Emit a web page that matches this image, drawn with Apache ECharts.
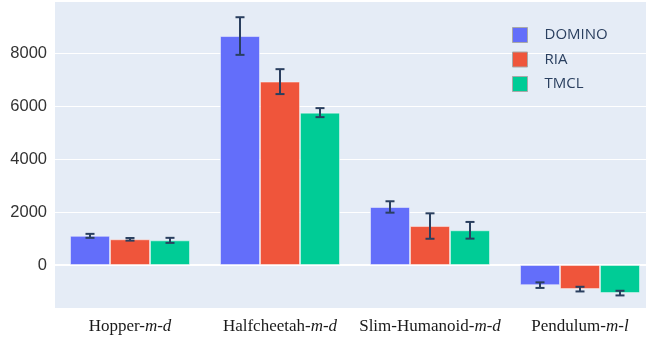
<!DOCTYPE html>
<html>
<head>
<meta charset="utf-8">
<script src="https://cdn.jsdelivr.net/npm/echarts@6/dist/echarts.min.js"></script>
<style>
  html, body { margin: 0; padding: 0; background: #fff; overflow: hidden; }
  #chart { width: 660px; height: 339px; }
</style>
</head>
<body>
<div id="chart"></div>
<script>
// Environments and their setting suffix (suffix drawn in italics)
const envNames = ['Hopper-', 'Halfcheetah-', 'Slim-Humanoid-', 'Pendulum-'];
const envSuffix = ['m-d', 'm-d', 'm-d', 'm-l'];
const categories = envNames.map((n, i) => n + envSuffix[i]);

const methods = ['DOMINO', 'RIA', 'TMCL'];
const colors = ['#636efa', '#ef553b', '#00cc96'];

// Mean returns per method
const dominoMean = [1100, 8640, 2190, -760];
const riaMean = [970, 6920, 1470, -910];
const tmclMean = [930, 5750, 1310, -1060];

// Error bar half-widths
const dominoErr = [75, 710, 215, 105];
const riaErr = [50, 470, 480, 88];
const tmclErr = [95, 170, 315, 88];

const yTicks = [-2000, 0, 2000, 4000, 6000, 8000, 10000];

const means = [dominoMean, riaMean, tmclMean];
const errs = [dominoErr, riaErr, tmclErr];

const chart = echarts.init(document.getElementById('chart'));

const barSeries = methods.map((m, k) => ({
  name: m,
  type: 'bar',
  data: means[k],
  barGap: '0%',
  barCategoryGap: '20%',
  itemStyle: { color: colors[k], borderColor: 'rgba(255,255,255,0.45)', borderWidth: 1 },
  emphasis: { disabled: true },
  z: 2,
  markLine: k === 0 ? {
    silent: true,
    symbol: 'none',
    label: { show: false },
    lineStyle: { color: '#ffffff', width: 2, type: 'solid' },
    data: [{ yAxis: 0 }],
    z: 1
  } : undefined
}));

const errSeries = methods.map((m, k) => ({
  type: 'custom',
  name: m + '-err',
  z: 5,
  silent: true,
  data: categories.map((c, i) => [i, means[k][i], errs[k][i]]),
  renderItem: function (params, api) {
    const idx = api.value(0);
    const v = api.value(1);
    const e = api.value(2);
    const band = api.size([1, 0])[0];
    const barW = band * 0.8 / 3;
    const top = api.coord([idx, v + e]);
    const bot = api.coord([idx, v - e]);
    const x = top[0] + (k - 1) * barW;
    const cap = 4.5;
    const style = { stroke: '#2a3f5f', lineWidth: 2, fill: null };
    return {
      type: 'group',
      children: [
        { type: 'line', shape: { x1: x, y1: top[1], x2: x, y2: bot[1] }, style },
        { type: 'line', shape: { x1: x - cap, y1: top[1], x2: x + cap, y2: top[1] }, style },
        { type: 'line', shape: { x1: x - cap, y1: bot[1], x2: x + cap, y2: bot[1] }, style }
      ]
    };
  }
}));

chart.setOption({
  animation: false,
  backgroundColor: '#ffffff',
  graphic: [{
    type: 'rect',
    z: -100,
    silent: true,
    shape: { x: 55, y: 2, width: 600, height: 306 },
    style: { fill: '#e5ecf6' }
  }],
  grid: { left: 55, width: 600, top: 0, height: 318, containLabel: false },
  legend: {
    orient: 'vertical',
    left: 512,
    top: 27,
    padding: 0,
    itemWidth: 15,
    itemHeight: 15,
    itemGap: 8.5,
    icon: 'rect',
    data: methods,
    itemStyle: { borderColor: '#a8a8a8', borderWidth: 1 },
    textStyle: { color: '#2a3f5f', fontSize: 15, fontFamily: 'Open Sans', padding: [0, 0, 0, 12] }
  },
  xAxis: {
    type: 'category',
    data: categories,
    axisLine: { show: false, onZero: false },
    axisTick: { show: false },
    splitLine: { show: false },
    axisLabel: {
      margin: 0,
      interval: 0,
      formatter: function (val, i) {
        return '{n|' + envNames[i] + '}{i|' + envSuffix[i] + '}';
      },
      rich: {
        n: { fontFamily: 'Liberation Serif', fontSize: 17, color: '#1a1a1a' },
        i: { fontFamily: 'Liberation Serif', fontSize: 17, fontStyle: 'italic', color: '#1a1a1a' }
      }
    }
  },
  yAxis: {
    type: 'value',
    min: yTicks[0],
    max: yTicks[yTicks.length - 1],
    interval: 2000,
    axisLine: { show: false },
    axisTick: { show: false },
    splitLine: { lineStyle: { color: '#ffffff', width: 1 } },
    axisLabel: {
      margin: 8,
      showMinLabel: false,
      showMaxLabel: false,
      formatter: function (v) { return String(v); },
      fontFamily: 'Liberation Sans',
      fontSize: 16.5,
      color: '#333333'
    }
  },
  series: [...barSeries, ...errSeries]
});
</script>
</body>
</html>
